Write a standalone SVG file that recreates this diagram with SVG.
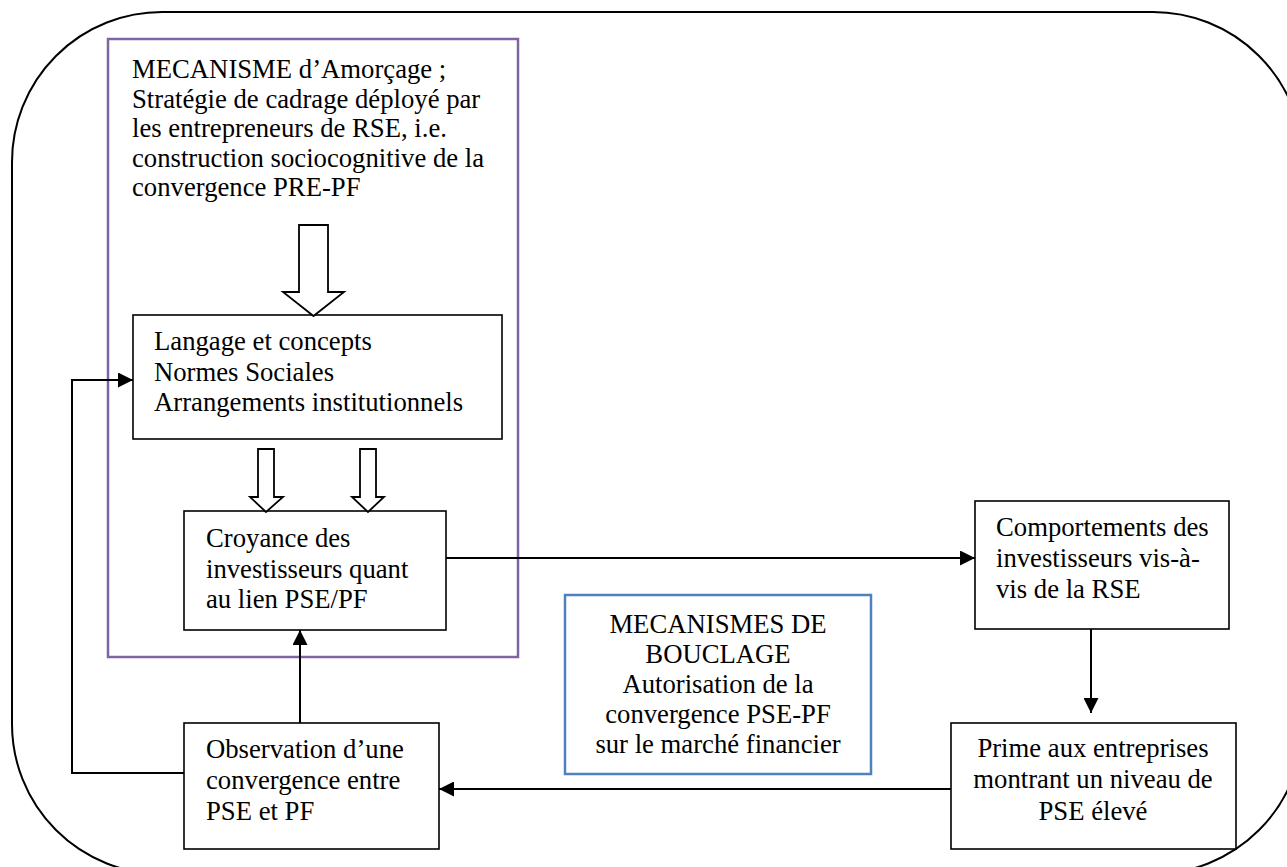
<svg xmlns="http://www.w3.org/2000/svg" width="1287" height="867" viewBox="0 0 1287 867">
  <style>
    text { font-family: "Liberation Serif", "Times New Roman", serif; font-size: 26.7px; fill: #000; }
    .mid { text-anchor: middle; }
    .box { fill: #fff; stroke: #000; stroke-width: 1.6; }
    .conn { fill: none; stroke: #000; stroke-width: 2; }
    .hollow { fill: #fff; stroke: #000; stroke-width: 1.8; stroke-linejoin: miter; }
  </style>
  <defs>
    <marker id="head" viewBox="0 0 10 10" refX="10" refY="5" markerWidth="7.5" markerHeight="7.5" markerUnits="strokeWidth" orient="auto">
      <path d="M0,0 L10,5 L0,10 Z" fill="#000"/>
    </marker>
  </defs>

  <rect width="1287" height="867" fill="#fff"/>

  <!-- outer rounded frame -->
  <rect id="frame" x="12" y="12" width="1291" height="862" rx="150" ry="150" fill="none" stroke="#000" stroke-width="2"/>

  <!-- priming mechanism (purple frame) -->
  <g id="amorcage">
    <rect x="108" y="39" width="410" height="618" fill="none" stroke="#8064A2" stroke-width="2.5"/>
    <text x="132" y="78">MECANISME d’Amorçage ;</text>
    <text x="132" y="107.5">Stratégie de cadrage déployé par</text>
    <text x="132" y="137">les entrepreneurs de RSE, i.e.</text>
    <text x="132" y="166.5">construction sociocognitive de la</text>
    <text x="132" y="196">convergence PRE-PF</text>
  </g>

  <g id="langage">
    <rect class="box" x="133" y="315" width="369" height="124"/>
    <text x="154" y="350">Langage et concepts</text>
    <text x="154" y="380.5">Normes Sociales</text>
    <text x="154" y="411">Arrangements institutionnels</text>
  </g>

  <g id="croyance">
    <rect class="box" x="184" y="511" width="262" height="119"/>
    <text x="206" y="547">Croyance des</text>
    <text x="206" y="577.5">investisseurs quant</text>
    <text x="206" y="608">au lien PSE/PF</text>
  </g>

  <g id="comportements">
    <rect class="box" x="975" y="501" width="254" height="128"/>
    <text x="996" y="536">Comportements des</text>
    <text x="996" y="567">investisseurs vis-à-</text>
    <text x="996" y="598">vis de la RSE</text>
  </g>

  <g id="prime">
    <rect class="box" x="951" y="723" width="285" height="126"/>
    <text class="mid" x="1093" y="757">Prime aux entreprises</text>
    <text class="mid" x="1093" y="788">montrant un niveau de</text>
    <text class="mid" x="1093" y="820">PSE élevé</text>
  </g>

  <g id="observation">
    <rect class="box" x="184" y="723" width="255" height="126"/>
    <text x="206" y="758">Observation d’une</text>
    <text x="206" y="788.5">convergence entre</text>
    <text x="206" y="820">PSE et PF</text>
  </g>

  <g id="bouclage">
    <rect x="565" y="595" width="306" height="179" fill="#fff" stroke="#4F81BD" stroke-width="2.5"/>
    <text class="mid" x="718" y="633">MECANISMES DE</text>
    <text class="mid" x="718" y="663">BOUCLAGE</text>
    <text class="mid" x="718" y="693">Autorisation de la</text>
    <text class="mid" x="718" y="723">convergence PSE-PF</text>
    <text class="mid" x="718" y="753">sur le marché financier</text>
  </g>

  <g id="connectors">
    <!-- block arrows inside the priming frame -->
    <path class="hollow" d="M299,225 H328 V292 H344 L313.5,316 L283,292 H299 Z"/>
    <path class="hollow" d="M258,449 H274 V497 H283 L266,512 L250,497 H258 Z"/>
    <path class="hollow" d="M360,449 H376 V497 H384 L368,512 L352,497 H360 Z"/>

    <!-- line connectors -->
    <path class="conn" d="M446,558 H975" marker-end="url(#head)"/>
    <path class="conn" d="M1091,629 V713" marker-end="url(#head)"/>
    <path class="conn" d="M951,789 H439" marker-end="url(#head)"/>
    <path class="conn" d="M300,723 V630" marker-end="url(#head)"/>
    <path class="conn" d="M184,773 H72 V380 H133" marker-end="url(#head)"/>
  </g>
</svg>
